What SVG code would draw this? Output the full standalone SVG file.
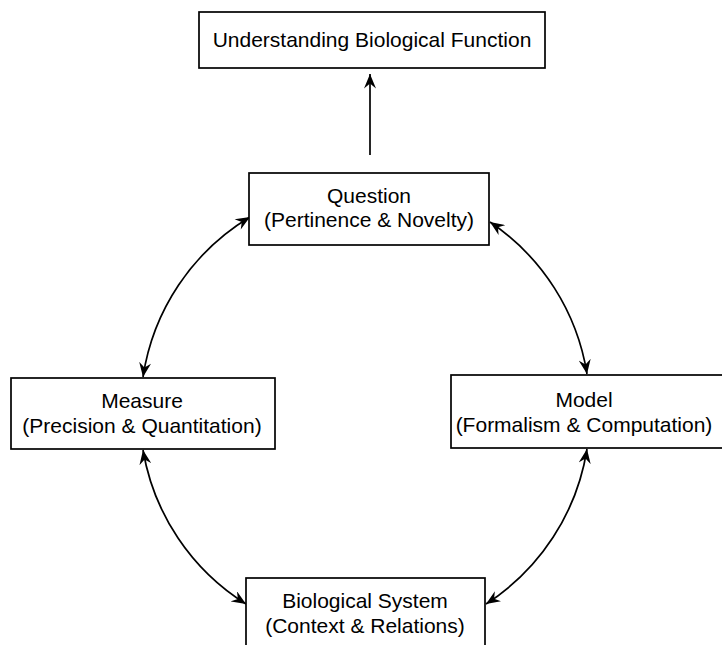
<svg xmlns="http://www.w3.org/2000/svg" width="722" height="645" viewBox="0 0 722 645">
<style>
.box{fill:#fff;stroke:#000;stroke-width:1.7}
.t{font-family:"Liberation Sans",Arial,sans-serif;font-size:21px;fill:#000;text-anchor:middle}
.c{fill:none;stroke:#000;stroke-width:1.7}
</style>
<defs>
<marker id="ah" viewBox="0 0 12 10" refX="12" refY="5" markerWidth="15" markerHeight="12" markerUnits="userSpaceOnUse" orient="auto-start-reverse">
<path d="M0,0 L12,5 L0,10 L4,5 z" fill="#000"/>
</marker>
</defs>
<rect width="722" height="645" fill="#fff"/>
<g id="connectors">
<line class="c" x1="370" y1="155" x2="370" y2="74" marker-end="url(#ah)"/>
<path class="c" d="M250,217 A226,226 0 0 0 143,377" marker-start="url(#ah)" marker-end="url(#ah)"/>
<path class="c" d="M490,222 A226,226 0 0 1 587,374" marker-start="url(#ah)" marker-end="url(#ah)"/>
<path class="c" d="M143,450 A226,226 0 0 0 246,604" marker-start="url(#ah)" marker-end="url(#ah)"/>
<path class="c" d="M587,449 A226,226 0 0 1 486,604" marker-start="url(#ah)" marker-end="url(#ah)"/>
</g>
<g id="understanding">
<rect class="box" x="199" y="12" width="346" height="56"/>
<text class="t" x="372" y="47">Understanding Biological Function</text>
</g>
<g id="question">
<rect class="box" x="249" y="173" width="240" height="72"/>
<text class="t" x="369" y="203">Question</text>
<text class="t" x="369" y="227">(Pertinence &amp; Novelty)</text>
</g>
<g id="measure">
<rect class="box" x="11" y="378" width="264" height="71"/>
<text class="t" x="142" y="408">Measure</text>
<text class="t" x="142" y="433">(Precision &amp; Quantitation)</text>
</g>
<g id="model">
<rect class="box" x="451" y="375" width="280" height="73"/>
<text class="t" x="584" y="407">Model</text>
<text class="t" x="584" y="432">(Formalism &amp; Computation)</text>
</g>
<g id="biosystem">
<rect class="box" x="246" y="578" width="239" height="80"/>
<text class="t" x="365" y="608">Biological System</text>
<text class="t" x="365" y="633">(Context &amp; Relations)</text>
</g>
</svg>
